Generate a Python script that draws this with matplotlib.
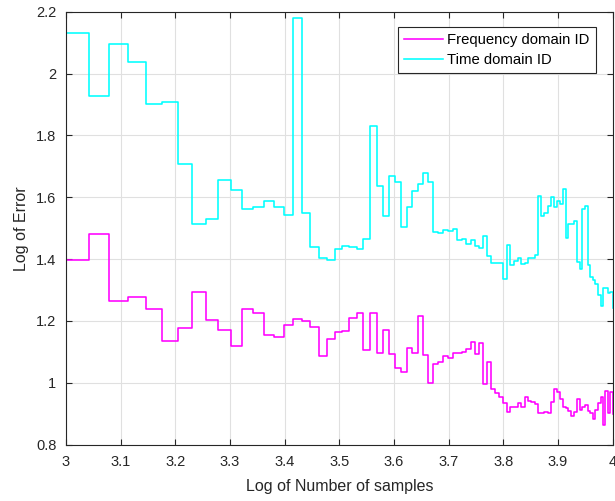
import numpy as np
import matplotlib
matplotlib.use("Agg")
import matplotlib.pyplot as plt

# Number of samples (x axis shows log10 of these)
n_samples = list(range(1000, 10001, 100))

# Log of error, frequency domain identification
freq_err = [
    1.398, 1.481, 1.266, 1.279, 1.240, 1.134, 1.178, 1.294, 1.202, 1.171,
    1.120, 1.240, 1.227, 1.154, 1.149, 1.186, 1.206, 1.201, 1.182, 1.087,
    1.141, 1.164, 1.169, 1.211, 1.227, 1.106, 1.225, 1.095, 1.171, 1.092,
    1.047, 1.034, 1.112, 1.095, 1.216, 1.089, 0.999, 1.060, 1.068, 1.088,
    1.081, 1.097, 1.095, 1.099, 1.108, 1.132, 1.092, 1.130, 0.996, 1.067,
    0.980, 0.968, 0.955, 0.935, 0.905, 0.923, 0.921, 0.934, 0.921, 0.955,
    0.940, 0.937, 0.931, 0.903, 0.901, 0.907, 0.901, 0.937, 0.979, 0.971,
    0.946, 0.921, 0.918, 0.910, 0.894, 0.907, 0.948, 0.913, 0.921, 0.928,
    0.910, 0.903, 0.883, 0.913, 0.934, 0.953, 0.864, 0.975, 0.901, 0.971,
    0.900,
]

# Log of error, time domain identification
time_err = [
    2.131, 1.927, 2.095, 2.039, 1.902, 1.909, 1.709, 1.512, 1.531, 1.657,
    1.622, 1.562, 1.569, 1.589, 1.568, 1.543, 2.180, 1.550, 1.439, 1.405,
    1.397, 1.434, 1.442, 1.439, 1.434, 1.465, 1.829, 1.635, 1.538, 1.670,
    1.650, 1.505, 1.570, 1.620, 1.642, 1.680, 1.650, 1.488, 1.486, 1.494,
    1.491, 1.496, 1.462, 1.464, 1.449, 1.462, 1.444, 1.435, 1.475, 1.410,
    1.388, 1.388, 1.386, 1.335, 1.446, 1.381, 1.395, 1.403, 1.385, 1.388,
    1.402, 1.405, 1.412, 1.603, 1.539, 1.550, 1.571, 1.600, 1.568, 1.587,
    1.579, 1.628, 1.468, 1.513, 1.513, 1.523, 1.390, 1.369, 1.561, 1.573,
    1.380, 1.343, 1.334, 1.321, 1.284, 1.247, 1.305, 1.305, 1.289, 1.295,
    1.241,
]

series_labels = ["Frequency domain ID", "Time domain ID"]
x_ticks = [3, 3.1, 3.2, 3.3, 3.4, 3.5, 3.6, 3.7, 3.8, 3.9, 4]
x_tick_labels = ["3", "3.1", "3.2", "3.3", "3.4", "3.5", "3.6", "3.7", "3.8", "3.9", "4"]
y_ticks = [0.8, 1.0, 1.2, 1.4, 1.6, 1.8, 2.0, 2.2]
y_tick_labels = ["0.8", "1", "1.2", "1.4", "1.6", "1.8", "2", "2.2"]

plt.rcParams["font.family"] = ["Liberation Sans", "DejaVu Sans"]

fig = plt.figure(figsize=(6.15, 5.01), dpi=100)
ax = fig.add_axes([66 / 615, 1 - 444.6 / 501, 546.7 / 615, 432.8 / 501])

x = np.log10(np.array(n_samples, dtype=float))
ax.step(x, freq_err, where="post", color="#FF00FF", lw=1.15, label=series_labels[0])
ax.step(x, time_err, where="post", color="#00FFFF", lw=1.15, label=series_labels[1])

ax.set_xlim(3, 4)
ax.set_ylim(0.8, 2.2)
ax.set_xticks(x_ticks)
ax.set_xticklabels(x_tick_labels)
ax.set_yticks(y_ticks)
ax.set_yticklabels(y_tick_labels)

axis_col = "#262626"
ax.grid(True, color="#e0e0e0", lw=0.8)
ax.set_axisbelow(True)
for s in ax.spines.values():
    s.set_color(axis_col)
    s.set_linewidth(0.8)
ax.tick_params(direction="in", top=True, right=True, length=4, width=0.8,
               colors=axis_col, labelsize=10.5)
ax.tick_params(axis="x", pad=7.5)
ax.tick_params(axis="y", pad=7)

ax.set_xlabel("Log of Number of samples", fontsize=11.5, color=axis_col, labelpad=7)
ax.set_ylabel("Log of Error", fontsize=11.5, color=axis_col, labelpad=5)

leg = ax.legend(loc="upper right", bbox_to_anchor=(0.969, 0.965), borderaxespad=0,
                fontsize=10.75, fancybox=False, framealpha=1, edgecolor=axis_col,
                handlelength=2.6, handletextpad=0.3, labelspacing=0.4, borderpad=0.4)
leg.get_frame().set_linewidth(0.8)

fig.savefig("out.png", dpi=100)
